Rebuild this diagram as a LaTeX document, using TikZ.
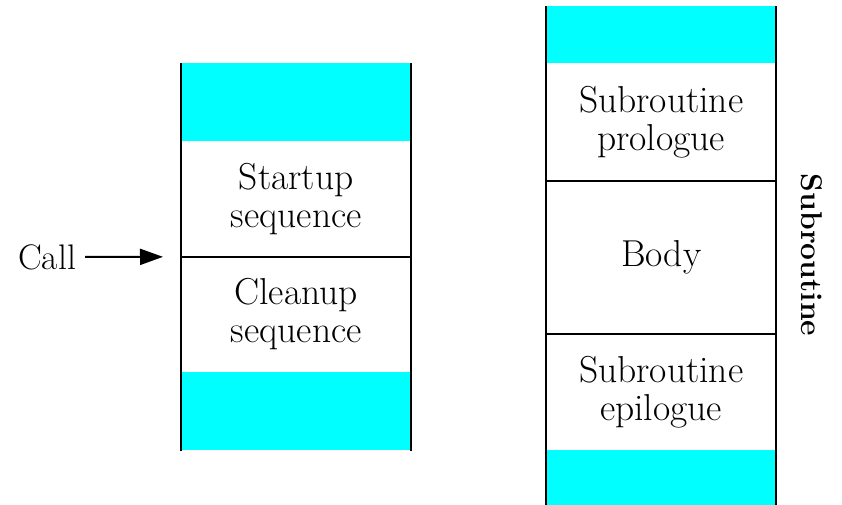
\documentclass[tikz,border=0pt]{standalone}
\usetikzlibrary{positioning,arrows.meta}
\definecolor{padcyan}{RGB}{0,255,255}

\begin{document}
\begin{tikzpicture}[x=1pt, y=-1pt, inner sep=0pt,
    seg/.style={minimum width=230pt, align=center, font=\fontsize{37.5}{38}\selectfont},
    pad/.style={seg, fill=padcyan},
    side/.style={line width=2pt},
    divider/.style={line width=1.6pt}]
  \useasboundingbox (0,0) rectangle (842,504);
  \clip (0,0) rectangle (842,504);

  % calling side
  \node[pad, minimum height=78pt, anchor=north west] (ltop) at (181,63) {};
  \node[seg, minimum height=115pt, below=0pt of ltop] (startup) {Startup\\sequence};
  \node[seg, minimum height=115pt, below=0pt of startup] (cleanup) {Cleanup\\sequence};
  \node[pad, minimum height=78pt, below=0pt of cleanup] (lbot) {};
  \draw[side] (ltop.north west) -- (lbot.south west);
  \draw[side] (ltop.north east) -- (lbot.south east);
  \draw[divider] (startup.south west) -- (startup.south east);

  % subroutine side
  \node[pad, minimum height=57pt, anchor=north west] (rtop) at (546,6) {};
  \node[seg, minimum height=117pt, below=0pt of rtop] (prologue) {Subroutine\\prologue};
  \node[seg, minimum height=153pt, below=0pt of prologue] (body) {Body};
  \node[seg, minimum height=115pt, below=0pt of body] (epilogue) {Subroutine\\epilogue};
  \node[pad, minimum height=60pt, below=0pt of epilogue] (rbot) {};
  \draw[side] (rtop.north west) -- (rbot.south west);
  \draw[side] (rtop.north east) -- (rbot.south east);
  \draw[divider] (prologue.south west) -- (prologue.south east);
  \draw[divider] (body.south west) -- (body.south east);

  \node[rotate=-90, font=\fontsize{30}{34}\selectfont\bfseries] (title) at (812,255) {Subroutine};

  \node[font=\fontsize{35.5}{38}\selectfont] (call) at (47,257) {Call};
  \draw[-{Triangle[length=23pt,width=16pt]}, line width=2pt, shorten <=9pt, shorten >=18pt]
    (call.east) -- (startup.south west);
\end{tikzpicture}
\end{document}
